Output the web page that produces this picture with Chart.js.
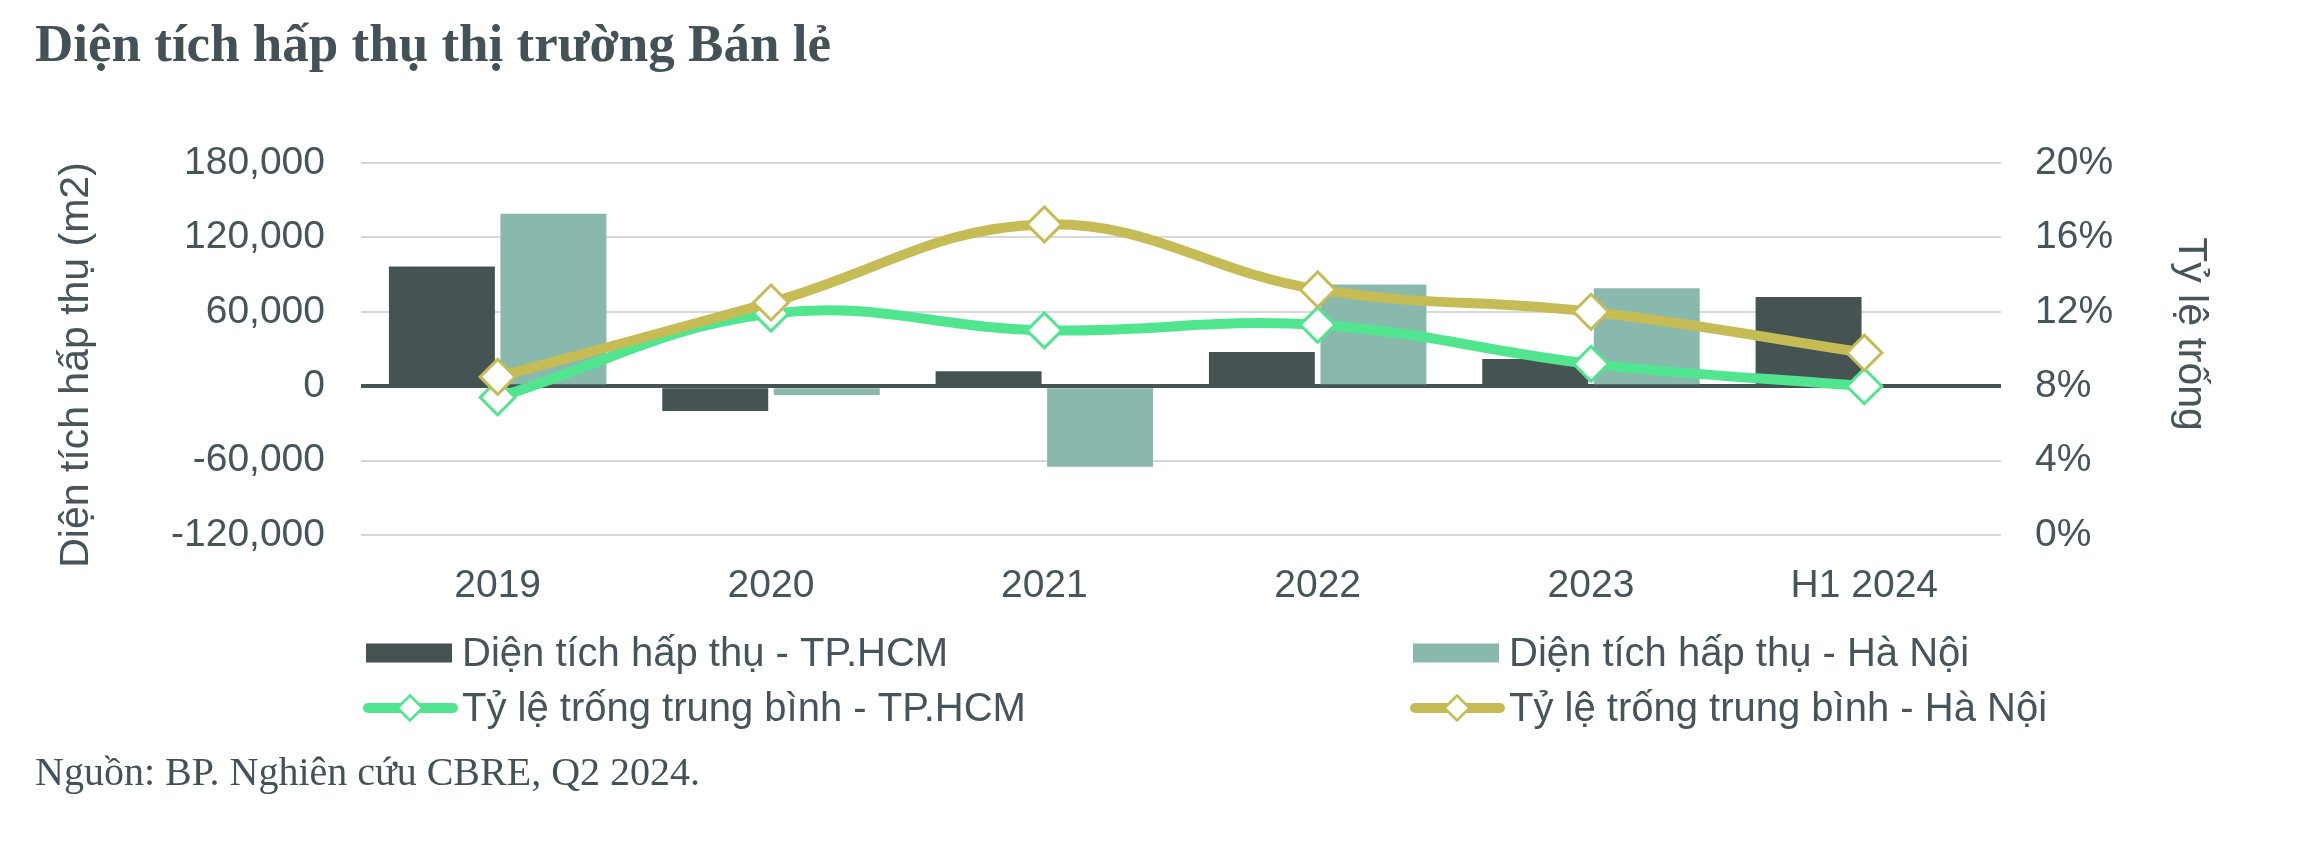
<!DOCTYPE html>
<html lang="vi">
<head>
    <meta charset="UTF-8">
    <title>Diện tích hấp thụ thị trường Bán lẻ</title>
    <script src="https://cdn.jsdelivr.net/npm/chart.js"></script>
    <style>
        body { margin: 0; background: #fff; }
        .wrap { position: relative; width: 2323px; height: 850px; }
        #chart { position: absolute; left: 0; top: 0; }
        .title {
            position: absolute; left: 35px; top: 17px; margin: 0;
            font: bold 53px "Liberation Serif", "Times New Roman", serif;
            line-height: 1; color: #445157; white-space: nowrap;
        }
        .source {
            position: absolute; left: 35px; top: 752px;
            font: 40px "Liberation Serif", "Times New Roman", serif;
            line-height: 1; color: #445157; white-space: nowrap;
        }
    </style>
</head>
<body>
    <div class="wrap">
        <canvas id="chart" width="2323" height="850"></canvas>
        <h1 class="title">Diện tích hấp thụ thị trường Bán lẻ</h1>
        <div class="source">Nguồn: BP. Nghiên cứu CBRE, Q2 2024.</div>
    </div>
    <script>
        // data
        const categories = ['2019', '2020', '2021', '2022', '2023', 'H1 2024'];
        const absorptionHCM = [96500, -20000, 12000, 27500, 22000, 72000];
        const absorptionHN = [139000, -7000, -65000, 82000, 79000, null];
        const vacancyHCM = [7.4, 11.9, 11.0, 11.3, 9.2, 8.0];
        const vacancyHN = [8.5, 12.5, 16.7, 13.2, 12.0, 9.8];
        const areaAxis = { min: -120000, max: 180000, step: 60000 };
        const rateAxis = { min: 0, max: 20, step: 4 };

        const textColor = '#47545A';
        const sans = 'Liberation Sans, Arial, sans-serif';

        // 2x2 legend like the original (items laid out by dataset index)
        const gridLegend = {
            id: 'gridLegend',
            afterDraw(chart, args, opts) {
                const ctx = chart.ctx;
                ctx.save();
                ctx.font = opts.fontSize + 'px ' + sans;
                ctx.textBaseline = 'middle';
                ctx.textAlign = 'left';
                chart.data.datasets.forEach((ds, i) => {
                    const x = opts.columns[i % 2];
                    const y = opts.rows[Math.floor(i / 2)];
                    if (ds.type === 'bar') {
                        ctx.fillStyle = ds.backgroundColor;
                        ctx.fillRect(x + 3, y - 9.5, 86, 19);
                    } else {
                        ctx.strokeStyle = ds.borderColor;
                        ctx.lineWidth = 10;
                        ctx.lineCap = 'round';
                        ctx.beginPath();
                        ctx.moveTo(x + 5, y);
                        ctx.lineTo(x + 90, y);
                        ctx.stroke();
                        const cx = x + 47, r = 12.5;
                        ctx.beginPath();
                        ctx.moveTo(cx, y - r);
                        ctx.lineTo(cx + r, y);
                        ctx.lineTo(cx, y + r);
                        ctx.lineTo(cx - r, y);
                        ctx.closePath();
                        ctx.fillStyle = '#fff';
                        ctx.fill();
                        ctx.lineWidth = 2.5;
                        ctx.stroke();
                    }
                    ctx.fillStyle = textColor;
                    ctx.fillText(ds.label, x + opts.textOffset, y + 2);
                });
                ctx.restore();
            }
        };

        // rotated axis titles, centred where the original has them
        const axisTitles = {
            id: 'axisTitles',
            afterDraw(chart, args, opts) {
                const ctx = chart.ctx;
                ctx.save();
                ctx.font = opts.fontSize + 'px ' + sans;
                ctx.fillStyle = textColor;
                ctx.textAlign = 'center';
                ctx.textBaseline = 'middle';
                opts.items.forEach(t => {
                    ctx.save();
                    ctx.translate(t.x, t.y);
                    ctx.rotate(t.rotation);
                    ctx.fillText(t.text, 0, 0);
                    ctx.restore();
                });
                ctx.restore();
            }
        };

        const ctx = document.getElementById('chart').getContext('2d');
        new Chart(ctx, {
            data: {
                labels: categories,
                datasets: [
                    {
                        type: 'bar',
                        label: 'Diện tích hấp thụ - TP.HCM',
                        data: absorptionHCM,
                        backgroundColor: '#455353',
                        yAxisID: 'y',
                        order: 2,
                        categoryPercentage: 0.816,
                        barPercentage: 0.95
                    },
                    {
                        type: 'bar',
                        label: 'Diện tích hấp thụ - Hà Nội',
                        data: absorptionHN,
                        backgroundColor: '#88B9AC',
                        yAxisID: 'y',
                        order: 2,
                        categoryPercentage: 0.816,
                        barPercentage: 0.95
                    },
                    {
                        type: 'line',
                        label: 'Tỷ lệ trống trung bình - TP.HCM',
                        data: vacancyHCM,
                        borderColor: '#52E590',
                        borderWidth: 10,
                        tension: 0.4,
                        pointStyle: 'rectRot',
                        pointRadius: 17.5,
                        pointBorderWidth: 3,
                        pointBackgroundColor: '#fff',
                        pointBorderColor: '#52E590',
                        yAxisID: 'y1',
                        order: 1
                    },
                    {
                        type: 'line',
                        label: 'Tỷ lệ trống trung bình - Hà Nội',
                        data: vacancyHN,
                        borderColor: '#C5BC55',
                        borderWidth: 10,
                        tension: 0.4,
                        pointStyle: 'rectRot',
                        pointRadius: 17.5,
                        pointBorderWidth: 3,
                        pointBackgroundColor: '#fff',
                        pointBorderColor: '#C5BC55',
                        yAxisID: 'y1',
                        order: 0
                    }
                ]
            },
            options: {
                responsive: false,
                animation: false,
                layout: { padding: { top: 163, bottom: 0, left: 0, right: 0 } },
                plugins: {
                    legend: { display: false },
                    tooltip: { enabled: false },
                    gridLegend: { columns: [363, 1410], rows: [653, 708], textOffset: 99, fontSize: 40 },
                    axisTitles: {
                        fontSize: 41,
                        items: [
                            { text: 'Diện tích hấp thụ (m2)', x: 77, y: 365, rotation: -Math.PI / 2 },
                            { text: 'Tỷ lệ trống', x: 2190, y: 334, rotation: Math.PI / 2 }
                        ]
                    }
                },
                scales: {
                    x: {
                        grid: { display: false },
                        border: { display: false },
                        ticks: { color: textColor, font: { family: sans, size: 39 }, padding: 20, maxRotation: 0 },
                        afterFit: s => { s.height = 315; }
                    },
                    y: {
                        position: 'left',
                        min: areaAxis.min,
                        max: areaAxis.max,
                        border: { display: false },
                        grid: {
                            drawTicks: false,
                            color: c => c.tick && c.tick.value === 0 ? '#455353' : '#D9D9D9',
                            lineWidth: c => c.tick && c.tick.value === 0 ? 4 : 2
                        },
                        ticks: {
                            stepSize: areaAxis.step,
                            color: textColor,
                            font: { family: sans, size: 39 },
                            padding: 36,
                            callback: v => v.toLocaleString('en-US')
                        },
                        afterFit: s => { s.width = 361; }
                    },
                    y1: {
                        position: 'right',
                        min: rateAxis.min,
                        max: rateAxis.max,
                        border: { display: false },
                        grid: { drawOnChartArea: false, drawTicks: false },
                        ticks: {
                            stepSize: rateAxis.step,
                            color: textColor,
                            font: { family: sans, size: 39 },
                            padding: 34,
                            callback: v => v + '%'
                        },
                        afterFit: s => { s.width = 322; }
                    }
                }
            },
            plugins: [gridLegend, axisTitles]
        });
    </script>
</body>
</html>
